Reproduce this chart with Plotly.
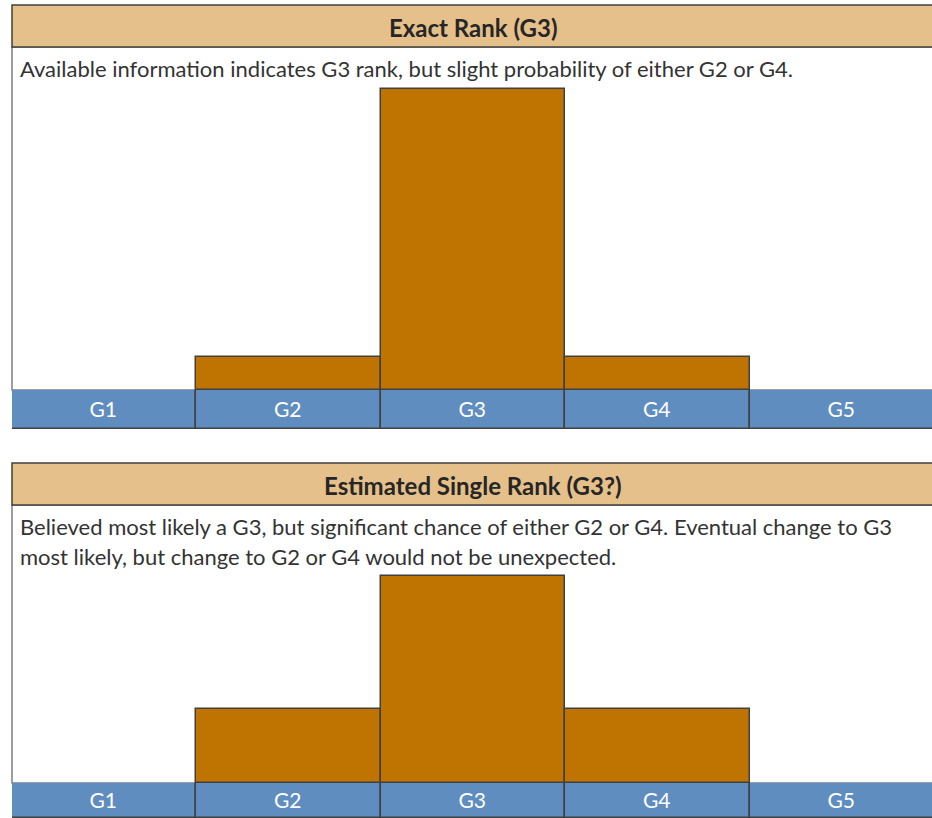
import plotly.graph_objects as go

categories = ["G1", "G2", "G3", "G4", "G5"]
exact_values = [None, 10, 90, 10, None]
estimated_values = [None, 22, 62, 22, None]
strip_values = [1, 1, 1, 1, 1]

title1 = "Exact Rank (G3)"
desc1 = ["Available information indicates G3 rank, but slight probability of either G2 or G4."]
title2 = "Estimated Single Rank (G3?)"
desc2 = ["Believed most likely a G3, but significant chance of either G2 or G4. Eventual change to G3",
         "most likely, but change to G2 or G4 would not be unexpected."]

W, H = 932, 818
BAR = "#BF7300"
BLUE = "#5F8DC0"
TAN = "#E6C08A"
EDGE = "#404040"
FONT = "Lato"


def py(p):
    return 1 - p / H


def px(p):
    return p / W


fig = go.Figure()

bar_line = dict(color=EDGE, width=1.5)
label_font = dict(color="white", size=21, family=FONT)
fig.add_trace(go.Bar(x=categories, y=exact_values, marker=dict(color=BAR, line=bar_line),
                     xaxis="x", yaxis="y", hoverinfo="skip"))
fig.add_trace(go.Bar(x=categories, y=strip_values, marker=dict(color=BLUE, line=bar_line),
                     text=categories, textposition="inside", insidetextanchor="middle",
                     textfont=label_font, xaxis="x", yaxis="y2", hoverinfo="skip"))
fig.add_trace(go.Bar(x=categories, y=estimated_values, marker=dict(color=BAR, line=bar_line),
                     xaxis="x", yaxis="y3", hoverinfo="skip"))
fig.add_trace(go.Bar(x=categories, y=strip_values, marker=dict(color=BLUE, line=bar_line),
                     text=categories, textposition="inside", insidetextanchor="middle",
                     textfont=label_font, xaxis="x", yaxis="y4", hoverinfo="skip"))

x_left = 12
x_right = 934
xr = [-0.5, -0.5 + 5 * (W - x_left) / (x_right - x_left)]

hidden = dict(visible=False, fixedrange=True)
fig.update_layout(
    width=W, height=H,
    margin=dict(l=0, r=0, t=0, b=0),
    paper_bgcolor="white", plot_bgcolor="rgba(0,0,0,0)",
    showlegend=False, bargap=0,
    uniformtext=dict(mode="show", minsize=21),
    xaxis=dict(domain=[px(x_left), 1], range=xr, **hidden),
    yaxis=dict(domain=[py(390), py(47)], range=[0, 343 * 90 / 301], **hidden),
    yaxis2=dict(domain=[py(429), py(390)], range=[0, 1], **hidden),
    yaxis3=dict(domain=[py(783), py(505)], range=[0, 278 * 90 / 301], **hidden),
    yaxis4=dict(domain=[0, py(783)], range=[0, 1], **hidden),
)

shapes = []
annotations = []
for (top, hdr_bot, area_bot, title, desc) in [
    (5, 47, 390, title1, desc1),
    (463, 505, 783, title2, desc2),
]:
    shapes.append(dict(type="rect", xref="paper", yref="paper", layer="below",
                       x0=px(x_left), x1=1.01, y0=py(area_bot), y1=py(hdr_bot),
                       line=dict(color="#7F7F7F", width=1.5), fillcolor="white"))
    shapes.append(dict(type="rect", xref="paper", yref="paper", layer="above",
                       x0=px(x_left), x1=1.01, y0=py(hdr_bot), y1=py(top),
                       line=dict(color=EDGE, width=1.5), fillcolor=TAN))
    annotations.append(dict(text="<b>" + title + "</b>", xref="paper", yref="paper",
                            x=px((x_left + x_right) / 2), y=py((top + hdr_bot) / 2 + 1),
                            xanchor="center", yanchor="middle", showarrow=False,
                            font=dict(family=FONT, size=24, color="#262626")))
    for i, line in enumerate(desc):
        annotations.append(dict(text=line, xref="paper", yref="paper",
                                x=px(18), y=py(hdr_bot + 21 + 30 * i),
                                xanchor="left", yanchor="middle", showarrow=False,
                                font=dict(family=FONT, size=22, color="#333333")))

fig.update_layout(shapes=shapes, annotations=annotations)
fig.write_html("out.html", config={"displayModeBar": False},
               post_script="document.body.style.margin='0';document.body.style.overflow='hidden';")
